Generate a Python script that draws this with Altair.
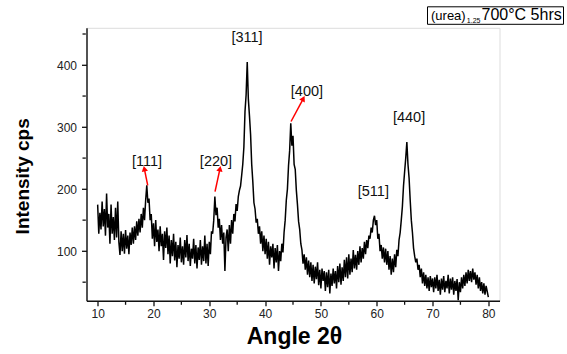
import altair as alt
import pandas as pd

# ---- data (XRD pattern, 10°..80°, step 0.2°) ----
seg10 = [175, 128, 162, 135, 180,  140, 168, 125, 193, 138,  160, 112, 175, 128, 155,
         118, 170, 122, 180, 115,  94, 132, 100, 128, 96,  134, 104, 125, 95, 130,
         110, 138, 112, 140, 118,  148, 125, 152, 130, 160,  138, 170, 150, 182, 206,
         178, 185, 150, 160, 120]
seg20 = [145, 108, 150, 115, 135,  100, 140, 108, 128, 86,  132, 105, 138, 95, 125,
         80, 118, 92, 128, 85,  115, 74, 110, 88, 122,  82, 108, 78, 118, 90,
         126, 84, 112, 76, 104,  88, 120, 80, 110, 72,  106, 86, 118, 78, 108,
         84, 125, 80, 112, 76]
seg30 = [115, 95, 132, 128, 150,  188, 158, 170, 138, 152,  118, 142, 112, 130, 68,
         122, 135, 100, 142, 112,  150, 128, 160, 148, 176,  165, 188, 198, 205, 222,
         240, 268, 325, 352, 405,  345, 318, 288, 240, 212,  178, 168, 146, 152, 128,
         140, 112, 132, 100, 125]
seg40 = [95, 120, 88, 115, 78,  108, 90, 112, 72, 105,  82, 110, 68, 100, 84,
         112, 98, 130, 150, 182,  200, 238, 262, 306, 270,  286, 240, 232, 198, 175,
         148, 135, 112, 102, 80,  95, 70, 90, 62, 85,  58, 82, 52, 78, 48,
         75, 55, 82, 45, 70]
seg50 = [40, 72, 52, 68, 36,  66, 42, 70, 32, 64,  44, 72, 48, 68, 40,
         76, 50, 80, 46, 74,  52, 86, 58, 90, 56,  95, 62, 88, 66, 102,
         72, 94, 70, 100, 78,  108, 82, 105, 88, 115,  95, 118, 105, 125, 120,
         138, 130, 150, 157, 142]
seg60 = [150, 120, 128, 100, 110,  88, 106, 82, 104, 78,  100, 70, 92, 62, 88,
         66, 95, 74, 102, 92,  118, 130, 150, 172, 205,  228, 250, 276, 240, 218,
         182, 150, 130, 105, 92,  82, 88, 70, 78, 58,  72, 48, 66, 44, 62,
         40, 58, 36, 60, 42]
seg70 = [56, 34, 58, 40, 62,  36, 54, 30, 56, 38,  60, 34, 52, 40, 62,
         32, 56, 38, 58, 30,  52, 36, 55, 21, 50,  34, 58, 40, 62, 44,
         66, 48, 70, 52, 68,  50, 72, 54, 66, 46,  62, 40, 58, 36, 50,
         32, 48, 30, 44, 35,  26]

segments = [(10, seg10), (20, seg20), (30, seg30), (40, seg40),
            (50, seg50), (60, seg60), (70, seg70)]
angles, intensity = [], []
for start, vals in segments:
    for i, v in enumerate(vals):
        angles.append(round(start + 0.2 * i, 1))
        intensity.append(v)

peak_labels = ["[111]", "[220]", "[311]", "[400]", "[511]", "[440]"]
label_angle = [18.84, 31.2, 36.76, 47.5, 59.4, 65.8]
label_int = [244, 244, 444, 357, 196, 314]

arrow_from_angle = [18.97, 31.03, 44.65]
arrow_from_int = [206, 196, 309]
arrow_to_angle = [18.36, 31.92, 46.85]
arrow_to_int = [233, 233, 346]
arrow_dir = [348, 12, 28]

x_major = [10, 20, 30, 40, 50, 60, 70, 80]
x_minor = [15, 25, 35, 45, 55, 65, 75]
y_major = [100, 200, 300, 400]
y_minor = [50, 150, 250, 350, 450]

legend_main = "(urea)"
legend_sub = "1.25"
legend_rest = "700°C 5hrs"

FONT = "Liberation Sans"

df = pd.DataFrame({"angle": angles, "intensity": intensity})
lab = pd.DataFrame({"label": peak_labels, "angle": label_angle, "intensity": label_int})
arr = pd.DataFrame({"a1": arrow_from_angle, "i1": arrow_from_int,
                    "a2": arrow_to_angle, "i2": arrow_to_int, "dir": arrow_dir})
leg = pd.DataFrame({"t": [legend_main]})
xm = pd.DataFrame({"v": x_minor})
ym = pd.DataFrame({"v": y_minor})

xs = alt.Scale(domain=[8, 82], nice=False, zero=False)
ys = alt.Scale(domain=[20, 460], nice=False, zero=False)

x_axis = alt.Axis(
    values=x_major, tickSize=5,
    grid=False, domainColor="#111", domainWidth=1.4, tickColor="#111", tickWidth=1.3,
    labelFont=FONT, labelFontSize=12, labelColor="#222", labelPadding=3,
    labelOverlap=False,
    title="Angle 2θ", titleFont=FONT, titleFontSize=23, titleFontWeight="bold",
    titleColor="#000", titleX=207.5, titleY=43, titleAlign="center",
    titleBaseline="alphabetic", titleAnchor="middle",
)
y_axis = alt.Axis(
    values=y_major, tickSize=5,
    grid=False, domainColor="#111", domainWidth=1.4, tickColor="#111", tickWidth=1.3,
    labelFont=FONT, labelFontSize=12, labelColor="#222", labelPadding=5,
    labelOverlap=False,
    title="Intensity cps", titleFont=FONT, titleFontSize=19, titleFontWeight="bold",
    titleColor="#000", titleX=-58, titleY=148, titleAngle=270, titleAlign="center",
    titleBaseline="alphabetic",
)

line = alt.Chart(df).mark_line(color="#000", strokeWidth=1.5, interpolate="linear").encode(
    x=alt.X("angle:Q", scale=xs, axis=x_axis),
    y=alt.Y("intensity:Q", scale=ys, axis=y_axis),
)

# minor ticks (outside the plot, through the shared scales)
x_minor_ticks = alt.Chart(xm).mark_rule(color="#111", strokeWidth=1.3).encode(
    x=alt.X("v:Q", scale=xs), y=alt.value(273.7), y2=alt.value(277))
y_minor_ticks = alt.Chart(ym).mark_rule(color="#111", strokeWidth=1.3).encode(
    y=alt.Y("v:Q", scale=ys), x=alt.value(-0.7), x2=alt.value(-4))

labels = alt.Chart(lab).mark_text(font=FONT, fontSize=14.5, color="#111",
                                  baseline="middle", align="center").encode(
    x=alt.X("angle:Q", scale=xs), y=alt.Y("intensity:Q", scale=ys), text="label:N")

arrow_lines = alt.Chart(arr).mark_rule(color="#ff0000", strokeWidth=1.5).encode(
    x=alt.X("a1:Q", scale=xs), y=alt.Y("i1:Q", scale=ys),
    x2="a2:Q", y2="i2:Q")

arrow_heads = alt.Chart(arr).mark_point(shape="triangle-up", filled=True, color="#ff0000",
                                        size=40, opacity=1).encode(
    x=alt.X("a2:Q", scale=xs), y=alt.Y("i2:Q", scale=ys),
    angle=alt.Angle("dir:Q", scale=None))

box = alt.Chart(leg).mark_rect(fill="white", stroke="#000", strokeWidth=1).encode(
    x=alt.value(341), x2=alt.value(477), y=alt.value(-21), y2=alt.value(-3.5))

t1 = alt.Chart(leg).mark_text(font=FONT, fontSize=13, align="left", baseline="alphabetic",
                              color="#000").encode(
    x=alt.value(344.5), y=alt.value(-8.3), text=alt.value(legend_main))
t2 = alt.Chart(leg).mark_text(font=FONT, fontSize=7, align="left", baseline="alphabetic",
                              color="#000").encode(
    x=alt.value(380.3), y=alt.value(-4.8), text=alt.value(legend_sub))
t3 = alt.Chart(leg).mark_text(font=FONT, fontSize=16, align="left", baseline="alphabetic",
                              color="#000").encode(
    x=alt.value(395), y=alt.value(-8.3), text=alt.value(legend_rest))

chart = alt.layer(line, x_minor_ticks, y_minor_ticks, labels, arrow_lines, arrow_heads,
                  box, t1, t2, t3).properties(
    width=413, height=273,
    autosize=alt.AutoSizeParams(type="none"),
    padding={"left": 86.5, "top": 27.8, "right": 67.5, "bottom": 53.2},
).configure_view(stroke=None).configure(background="white")

chart.save("out.html", embed_options={"renderer": "svg", "actions": False})
